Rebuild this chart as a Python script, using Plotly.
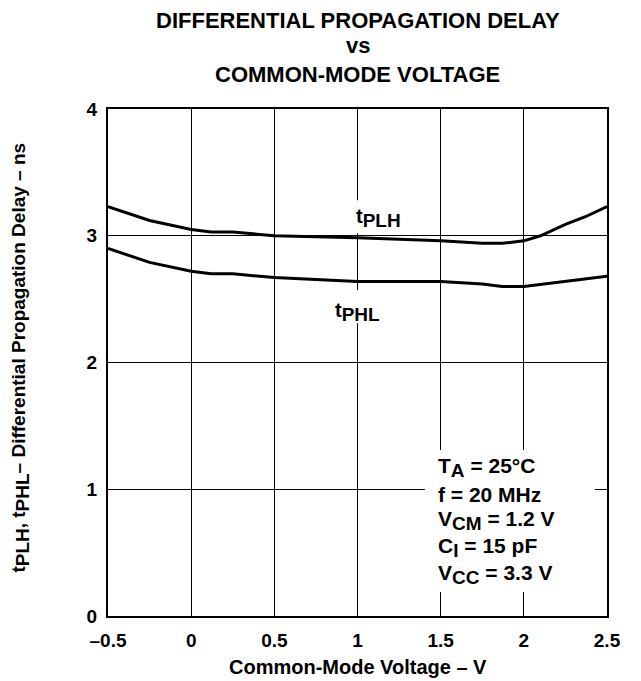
import plotly.graph_objects as go

# ---- data ----
vcm_plh = [-0.5, -0.25, 0.0, 0.12, 0.25, 0.5, 1.0, 1.5, 1.75, 1.87, 2.0, 2.1, 2.25, 2.37, 2.5]
tplh = [3.23, 3.12, 3.05, 3.03, 3.03, 3.00, 2.985, 2.96, 2.94, 2.94, 2.96, 3.00, 3.09, 3.15, 3.23]
vcm_phl = [-0.5, -0.25, 0.0, 0.12, 0.25, 0.5, 1.0, 1.5, 1.75, 1.87, 2.0, 2.5]
tphl = [2.90, 2.79, 2.72, 2.70, 2.70, 2.67, 2.64, 2.64, 2.62, 2.60, 2.60, 2.68]

x_tickvals = [-0.5, 0, 0.5, 1, 1.5, 2, 2.5]
x_ticktext = ["\u20130.5", "0", "0.5", "1", "1.5", "2", "2.5"]
y_tickvals = [0, 1, 2, 3, 4]
y_ticktext = ["0", "1", "2", "3", "4"]

title_lines = ["DIFFERENTIAL PROPAGATION DELAY", "vs", "COMMON-MODE VOLTAGE"]
title_y = [1.1755, 1.1243, 1.068]

FONT = "Liberation Sans"


def sub(s, size):
    return '<sub><span style="font-size:%dpx">%s</span></sub>' % (size, s)


conditions = [
    "T" + sub("A", 19) + " = 25\u00b0C",
    "f = 20 MHz",
    "V" + sub("CM", 19) + " = 1.2 V",
    "C" + sub("I", 19) + " = 15 pF",
    "V" + sub("CC", 19) + " = 3.3 V",
]
cond_y = [1.17, 0.96, 0.75, 0.54, 0.33]

fig = go.Figure()
fig.add_trace(go.Scatter(x=vcm_plh, y=tplh, mode="lines",
                         line=dict(color="black", width=3), showlegend=False))
fig.add_trace(go.Scatter(x=vcm_phl, y=tphl, mode="lines",
                         line=dict(color="black", width=3), showlegend=False))

# white masks that break the grid lines behind labels
for x0, x1, y0, y1 in [(1.405, 2.427, 0.19, 1.31),
                       (0.97, 1.03, 3.02, 3.28),
                       (0.97, 1.03, 2.31, 2.57)]:
    fig.add_shape(type="rect", x0=x0, x1=x1, y0=y0, y1=y1, xref="x", yref="y",
                  fillcolor="white", line=dict(width=0), layer="between")

fig.add_annotation(x=0.98, y=3.14, xref="x", yref="y", xanchor="left", yanchor="middle",
                   text="t" + sub("PLH", 19), showarrow=False,
                   font=dict(family=FONT, size=20, color="black", weight="bold"))
fig.add_annotation(x=0.85, y=2.40, xref="x", yref="y", xanchor="left", yanchor="middle",
                   text="t" + sub("PHL", 19), showarrow=False,
                   font=dict(family=FONT, size=20, color="black", weight="bold"))

for txt, yy in zip(conditions, cond_y):
    fig.add_annotation(x=1.472, y=yy, xref="x", yref="y", xanchor="left", yanchor="middle",
                       text=txt, showarrow=False,
                       font=dict(family=FONT, size=21, color="black", weight="bold"))

# chart title (three centred lines)
for txt, yy in zip(title_lines, title_y):
    fig.add_annotation(x=0.5, y=yy, xref="paper", yref="paper", xanchor="center", yanchor="middle",
                       text=txt, showarrow=False,
                       font=dict(family=FONT, size=22, color="black", weight="bold"))

# axis titles
fig.add_annotation(x=-0.176, y=0.51, xref="paper", yref="paper", xanchor="center", yanchor="middle",
                   textangle=-90, showarrow=False,
                   text="t" + sub("PLH", 19) + ", t" + sub("PHL", 19) + "\u2013 Differential Propagation Delay \u2013 ns",
                   font=dict(family=FONT, size=19, color="black", weight="bold"))
fig.add_annotation(x=0.5, y=-0.1006, xref="paper", yref="paper", xanchor="center", yanchor="middle",
                   showarrow=False, text="Common-Mode Voltage \u2013 V",
                   font=dict(family=FONT, size=20, color="black", weight="bold"))

fig.update_layout(
    width=633, height=673,
    margin=dict(l=100, r=34, t=101, b=65),
    paper_bgcolor="white", plot_bgcolor="white",
    font=dict(family=FONT, color="black"),
)
fig.update_xaxes(range=[-0.5, 2.5], tickvals=x_tickvals, ticktext=x_ticktext,
                 showgrid=True, gridcolor="black", gridwidth=1,
                 showline=True, linecolor="black", linewidth=2, mirror=True,
                 ticks="outside", ticklen=6, tickcolor="rgba(0,0,0,0)",
                 zeroline=False,
                 tickfont=dict(family=FONT, size=19, color="black", weight="bold"))
fig.update_yaxes(range=[0, 4], tickvals=y_tickvals, ticktext=y_ticktext,
                 showgrid=True, gridcolor="black", gridwidth=1,
                 showline=True, linecolor="black", linewidth=2, mirror=True,
                 ticks="outside", ticklen=5, tickcolor="rgba(0,0,0,0)",
                 zeroline=False,
                 tickfont=dict(family=FONT, size=19, color="black", weight="bold"))

fig.write_html("out.html")
